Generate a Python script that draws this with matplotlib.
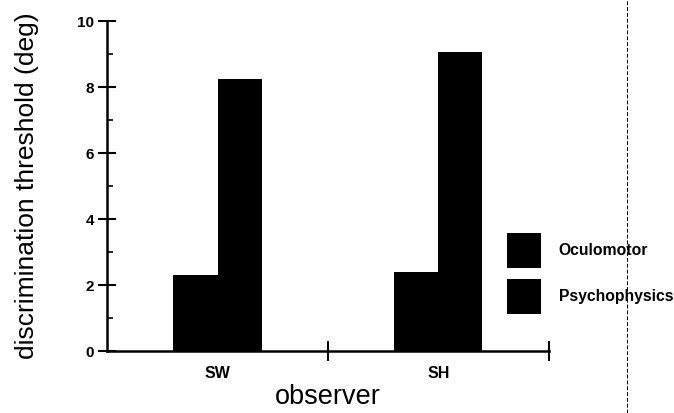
import numpy as np
import matplotlib
matplotlib.use("Agg")
from matplotlib import pyplot as plt
from matplotlib.lines import Line2D

# data
observers = ["SW", "SH"]
oculomotor = [2.3, 2.4]
psychophysics = [8.25, 9.05]
series_names = ["Oculomotor", "Psychophysics"]

plt.rcParams['font.family'] = ['Liberation Sans', 'DejaVu Sans']

fig = plt.figure(figsize=(6.74, 4.13), dpi=100)
ax = fig.add_axes([0.159, 0.150, 0.655, 0.799])

pos = np.arange(len(observers)) + 0.5
w = 0.2
ax.bar(pos - w / 2, oculomotor, w, color="black", label=series_names[0])
ax.bar(pos + w / 2, psychophysics, w, color="black", label=series_names[1])

ax.set_xlim(0, 2)
ax.set_ylim(0, 10)

# spines
for s in ["top", "right"]:
    ax.spines[s].set_visible(False)
ax.spines["left"].set_linewidth(1.8)
ax.spines["bottom"].set_linewidth(1.8)

# y ticks
ax.set_yticks(np.arange(0, 11, 2))
ax.set_yticks(np.arange(1, 10, 2), minor=True)
ax.tick_params(axis="y", which="major", direction="inout", length=13, width=1.5,
               labelsize=11, pad=3)
ax.tick_params(axis="y", which="minor", direction="in", length=4, width=1.2)
for t in ax.get_yticklabels():
    t.set_fontweight("bold")

# x ticks: separators at 1 and 2, labels at group centres
ax.set_xticks([1, 2])
ax.set_xticklabels(["", ""])
ax.tick_params(axis="x", which="major", direction="inout", length=14, width=1.5)
ax.set_xticks(pos, minor=True)
ax.set_xticklabels(observers, minor=True)
ax.tick_params(axis="x", which="minor", length=0, labelsize=11.5, pad=11)
for t in ax.get_xticklabels(minor=True):
    t.set_fontweight("bold")

ax.set_ylabel("discrimination threshold (deg)", fontsize=19)
ax.yaxis.set_label_coords(-0.155, 0.50)
ax.set_xlabel("observer", fontsize=19.5)
ax.xaxis.set_label_coords(0.5, -0.100)

ax.legend(loc="upper left", bbox_to_anchor=(0.752, 0.436),
          bbox_transform=fig.transFigure, frameon=False,
          borderpad=0, borderaxespad=0,
          handlelength=2.2, handleheight=3.05, handletextpad=1.1,
          labelspacing=0.7, prop={"weight": "bold", "size": 11.3})

# fold line on the scan
fig.add_artist(Line2D([0.930, 0.930], [0, 1], transform=fig.transFigure,
                      color="black", lw=0.7, ls=(0, (4, 2))))

fig.savefig("out.png", dpi=100)
